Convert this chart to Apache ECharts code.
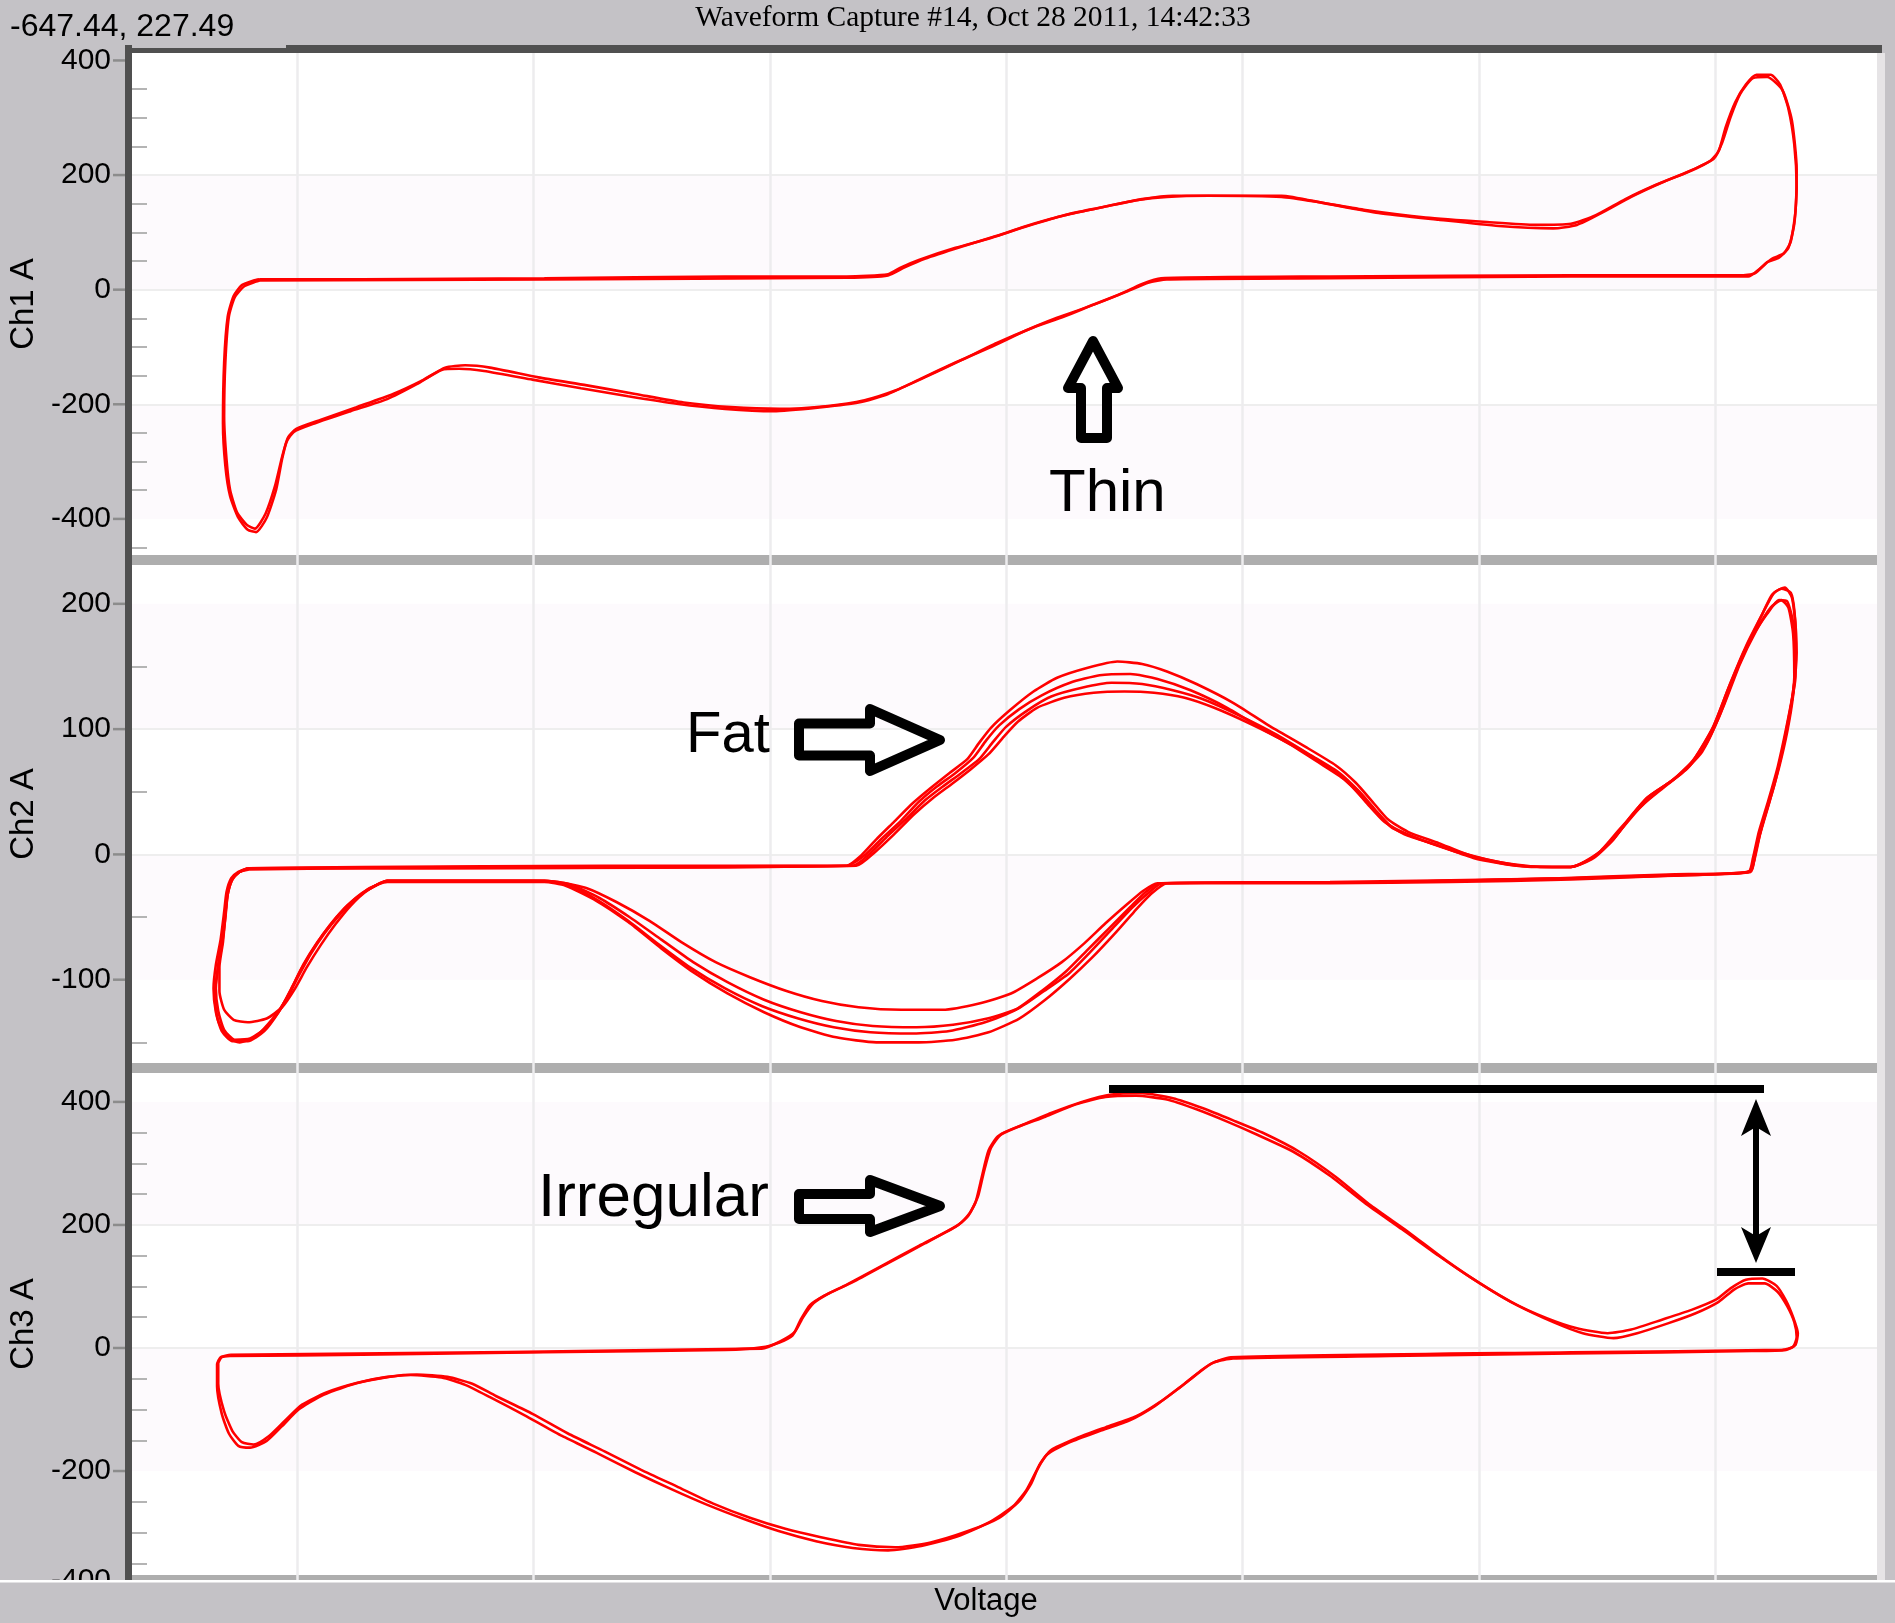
<!DOCTYPE html>
<html><head><meta charset="utf-8">
<script src="https://cdn.jsdelivr.net/npm/echarts@6/dist/echarts.min.js"></script>
<style>html,body{margin:0;padding:0;background:#C4C2C6;overflow:hidden}#c{width:1895px;height:1623px}</style>
</head><body><div id="c"></div>
<script>
// ---------- axis ranges & tick labels ----------
const voltageRange = [-740, 737];
const ch1Range = [-463, 413];
const ch2Range = [-166.5, 231];
const ch3Range = [-369, 447];
const ch1Ticks = [-400, -200, 0, 200, 400];
const ch2Ticks = [-100, 0, 100, 200];
const ch3Ticks = [-200, 0, 200, 400];
const ch3ClippedTick = '-400';
const channelNames = ['Ch1 A', 'Ch2 A', 'Ch3 A'];
const titleText = 'Waveform Capture #14, Oct 28 2011, 14:42:33';
const cursorText = '-647.44, 227.49';
const xName = 'Voltage';

// ---------- traces: [voltage, current] ----------
const ch1TraceA = [[-632,18],[-545,18],[-391,20],[-238,23],[-135,23],[-100,27],[-89,39],[-74,52],[-43,73],[-13,90],[18,111],[49,130],[79,143],[110,156],[136,162],[171,164],[233,162],[264,153],[304,139],[355,126],[407,118],[448,113],[478,115],[499,130],[524,158],[550,183],[575,204],[596,225],[603,242],[609,284],[617,327],[626,358],[635,375],[647,375],[655,358],[662,316],[667,253],[669,179],[667,115],[662,73],[654,56],[644,48],[634,29],[621,25],[478,25],[274,23],[131,20],[115,10],[95,-9],[69,-30],[43,-49],[18,-70],[-13,-100],[-43,-127],[-74,-157],[-100,-182],[-125,-197],[-156,-205],[-197,-212],[-238,-208],[-279,-199],[-320,-186],[-360,-172],[-401,-157],[-442,-142],[-463,-138],[-478,-140],[-499,-165],[-524,-191],[-555,-212],[-585,-233],[-603,-248],[-609,-265],[-613,-296],[-618,-349],[-626,-398],[-635,-423],[-642,-419],[-650,-398],[-657,-360],[-661,-307],[-663,-233],[-662,-127],[-659,-47],[-654,-11],[-647,8],[-637,16],[-632,18]];
const ch1TraceB = [[-632,16],[-391,18],[-135,21],[-100,25],[-86,39],[-69,54],[-38,75],[-8,94],[23,115],[54,132],[84,145],[115,158],[141,164],[233,164],[269,151],[315,134],[366,122],[417,111],[463,107],[483,113],[504,134],[529,162],[555,187],[580,208],[599,229],[606,257],[613,301],[621,341],[632,369],[644,371],[657,348],[665,295],[669,210],[668,137],[664,84],[658,63],[648,54],[638,37],[628,23],[478,23],[274,20],[136,18],[120,12],[100,-5],[74,-26],[49,-47],[23,-66],[-8,-93],[-38,-123],[-69,-153],[-94,-176],[-120,-193],[-151,-203],[-192,-208],[-233,-205],[-273,-197],[-314,-182],[-355,-167],[-396,-153],[-437,-136],[-458,-132],[-475,-136],[-493,-157],[-519,-182],[-550,-205],[-580,-227],[-601,-243],[-608,-258],[-613,-292],[-619,-343],[-627,-391],[-636,-417],[-643,-410],[-651,-389],[-657,-349],[-660,-296],[-662,-222],[-661,-127],[-658,-47],[-653,-13],[-645,6],[-635,14],[-632,16]];

const ch2Trace1 = [[-642,-11],[-545,-10],[-340,-9],[-135,-9],[-123,-1],[-110,12],[-95,26],[-79,41],[-64,53],[-48,65],[-33,76],[-23,89],[-13,101],[3,115],[23,130],[43,141],[69,149],[94,154],[115,152],[136,146],[161,136],[192,121],[222,103],[253,86],[279,71],[296,57],[310,42],[323,28],[340,18],[366,9],[396,-2],[432,-9],[478,-10],[497,-3],[514,12],[529,31],[545,47],[565,60],[582,76],[599,103],[613,137],[626,166],[640,192],[650,209],[659,213],[665,205],[668,181],[668,142],[663,113],[657,84],[650,55],[642,30],[635,7],[631,-12],[621,-15],[560,-17],[478,-20],[376,-22],[274,-23],[130,-23],[118,-30],[105,-42],[87,-59],[69,-76],[51,-93],[30,-109],[8,-124],[-18,-134],[-48,-141],[-79,-143],[-115,-142],[-146,-138],[-176,-131],[-207,-121],[-238,-107],[-268,-90],[-294,-72],[-320,-53],[-345,-37],[-369,-25],[-391,-21],[-463,-21],[-524,-21],[-534,-25],[-547,-32],[-560,-43],[-573,-57],[-585,-73],[-597,-92],[-606,-109],[-616,-126],[-628,-141],[-642,-149],[-655,-149],[-664,-141],[-669,-126],[-671,-107],[-669,-88],[-665,-68],[-662,-46],[-660,-30],[-656,-19],[-650,-14],[-642,-11]];
const ch2Trace2 = [[-641,-12],[-545,-11],[-135,-9],[-119,0],[-105,13],[-89,27],[-74,42],[-59,54],[-43,65],[-28,77],[-17,91],[-6,103],[11,116],[30,127],[54,137],[79,143],[105,144],[128,140],[156,131],[187,117],[217,100],[248,84],[274,69],[292,55],[306,40],[320,26],[337,16],[366,7],[396,-3],[432,-9],[478,-10],[499,-1],[517,16],[535,36],[552,51],[572,65],[589,82],[603,109],[617,144],[631,173],[644,192],[654,203],[661,202],[666,185],[668,156],[666,127],[661,98],[654,69],[646,42],[638,16],[633,-5],[628,-14],[560,-16],[468,-19],[325,-22],[136,-23],[122,-32],[108,-46],[92,-63],[73,-82],[54,-99],[33,-116],[11,-131],[-15,-142],[-43,-148],[-74,-150],[-110,-150],[-144,-146],[-174,-138],[-205,-126],[-236,-111],[-265,-94],[-292,-75],[-320,-54],[-347,-37],[-373,-25],[-391,-22],[-524,-22],[-539,-27],[-553,-38],[-565,-49],[-577,-63],[-589,-80],[-599,-97],[-609,-115],[-620,-130],[-635,-145],[-649,-150],[-659,-146],[-667,-133],[-670,-114],[-668,-95],[-664,-73],[-661,-51],[-659,-32],[-655,-20],[-649,-14],[-641,-12]];
const ch2Trace3 = [[-642,-11],[-442,-10],[-130,-9],[-115,1],[-100,15],[-84,29],[-69,43],[-54,54],[-38,65],[-23,76],[-11,90],[0,102],[18,115],[38,126],[64,133],[89,137],[115,136],[141,131],[166,124],[197,111],[228,96],[258,79],[282,65],[299,50],[312,36],[325,23],[345,14],[376,4],[412,-5],[447,-10],[478,-10],[501,1],[519,20],[538,39],[556,53],[577,69],[593,89],[607,118],[621,152],[635,179],[647,197],[656,203],[662,197],[666,176],[667,142],[663,111],[656,79],[648,50],[640,24],[634,1],[630,-14],[580,-16],[478,-19],[325,-22],[132,-23],[120,-31],[106,-43],[89,-60],[71,-78],[53,-95],[32,-109],[10,-123],[-16,-131],[-45,-136],[-76,-138],[-113,-137],[-144,-133],[-174,-126],[-205,-116],[-236,-102],[-265,-86],[-292,-68],[-319,-50],[-344,-35],[-369,-24],[-391,-21],[-524,-21],[-541,-29],[-555,-41],[-568,-56],[-580,-72],[-592,-90],[-602,-107],[-613,-122],[-626,-131],[-642,-134],[-654,-132],[-662,-124],[-666,-109],[-666,-90],[-663,-70],[-661,-49],[-659,-32],[-655,-20],[-649,-14],[-642,-11]];
const ch2Trace4 = [[-641,-11],[-127,-9],[-111,2],[-95,16],[-78,32],[-62,45],[-45,57],[-30,68],[-15,80],[-2,94],[10,106],[26,117],[49,125],[74,129],[100,130],[125,129],[151,125],[176,117],[207,104],[238,89],[265,73],[286,60],[302,45],[315,32],[327,21],[350,12],[381,2],[417,-6],[452,-10],[478,-10],[494,-4],[512,10],[527,28],[542,45],[562,58],[580,73],[597,99],[611,132],[624,161],[638,188],[648,207],[656,212],[664,209],[667,195],[669,161],[666,130],[660,100],[653,70],[645,43],[637,18],[632,-3],[628,-14],[478,-19],[274,-22],[128,-23],[116,-29],[102,-40],[84,-55],[66,-71],[47,-86],[26,-99],[4,-111],[-23,-119],[-54,-124],[-89,-124],[-125,-122],[-156,-117],[-186,-109],[-217,-98],[-246,-86],[-275,-70],[-302,-53],[-330,-38],[-355,-27],[-379,-22],[-401,-21],[-524,-21],[-532,-24],[-545,-31],[-558,-41],[-571,-55],[-583,-70],[-595,-88],[-604,-105],[-614,-123],[-626,-138],[-640,-147],[-653,-148],[-662,-140],[-667,-125],[-669,-107],[-667,-88],[-664,-68],[-661,-47],[-659,-30],[-655,-19],[-649,-14],[-641,-11]];

const ch3TraceA = [[-657,-13],[-545,-11],[-391,-7],[-238,-3],[-207,1],[-192,9],[-181,20],[-174,46],[-166,70],[-154,85],[-135,103],[-105,134],[-74,166],[-43,197],[-33,213],[-26,237],[-21,276],[-15,321],[-7,344],[8,358],[33,376],[59,396],[84,408],[110,410],[136,404],[161,388],[187,368],[212,347],[243,319],[274,280],[304,235],[335,193],[366,150],[396,111],[427,75],[458,48],[483,32],[509,24],[529,30],[555,46],[580,62],[601,79],[613,97],[626,111],[640,113],[652,101],[660,77],[666,50],[670,24],[668,5],[660,-3],[631,-5],[478,-9],[325,-13],[192,-17],[176,-23],[166,-35],[151,-58],[130,-88],[110,-111],[84,-129],[59,-147],[38,-166],[28,-190],[21,-221],[11,-249],[-6,-276],[-33,-298],[-64,-316],[-94,-324],[-125,-320],[-156,-308],[-187,-294],[-217,-276],[-248,-253],[-279,-225],[-309,-198],[-340,-168],[-371,-139],[-401,-107],[-432,-78],[-452,-58],[-473,-47],[-499,-43],[-524,-47],[-550,-57],[-575,-72],[-596,-92],[-611,-119],[-624,-143],[-637,-157],[-647,-153],[-655,-135],[-662,-103],[-667,-58],[-667,-25],[-664,-15],[-657,-13]];
const ch3TraceB = [[-657,-11],[-207,-1],[-191,11],[-179,26],[-172,50],[-163,73],[-150,89],[-130,107],[-100,138],[-69,170],[-40,201],[-31,219],[-24,246],[-19,286],[-13,325],[-4,348],[13,362],[38,382],[64,400],[89,412],[115,414],[141,406],[166,390],[192,370],[218,349],[248,319],[279,278],[309,231],[340,189],[371,144],[401,105],[432,70],[463,42],[488,24],[514,16],[534,24],[560,40],[583,56],[603,75],[616,95],[628,105],[642,105],[653,91],[661,68],[667,42],[669,18],[666,2],[657,-3],[478,-7],[190,-15],[174,-25],[163,-40],[147,-64],[126,-94],[105,-117],[79,-135],[54,-153],[34,-174],[25,-202],[17,-231],[6,-257],[-15,-284],[-41,-306],[-72,-322],[-100,-329],[-130,-325],[-161,-314],[-192,-298],[-222,-278],[-253,-255],[-284,-229],[-314,-202],[-345,-172],[-376,-143],[-406,-111],[-437,-80],[-458,-60],[-478,-48],[-504,-44],[-529,-49],[-555,-60],[-580,-78],[-599,-100],[-613,-127],[-626,-151],[-640,-162],[-650,-159],[-658,-139],[-664,-107],[-668,-62],[-668,-27],[-665,-15],[-657,-11]];

// ---------- chart ----------
const FONT = 'Liberation Sans';
const chart = echarts.init(document.getElementById('c'), null, {renderer: 'canvas', width: 1895, height: 1623});

const gridBoxes = [
  {left: 132, top: 53, width: 1745, height: 502},
  {left: 132, top: 565, width: 1745, height: 498},
  {left: 132, top: 1073, width: 1745, height: 502},
  {left: 132, top: 53, width: 1745, height: 1527}
];
const ranges = [ch1Range, ch2Range, ch3Range];
const ticks = [ch1Ticks, ch2Ticks, ch3Ticks];
const minorSplits = [4, 2, 4];

const xAxes = [0, 1, 2].map(i => ({type: 'value', gridIndex: i, min: voltageRange[0], max: voltageRange[1], show: false}));
xAxes.push({
  type: 'value', gridIndex: 3, min: voltageRange[0], max: voltageRange[1], splitNumber: 7, z: 2,
  axisLine: {show: false, onZero: false}, axisTick: {show: false}, axisLabel: {show: false},
  splitLine: {show: true, showMinLine: false, showMaxLine: false, lineStyle: {color: '#EDECEE', width: 2.5}}
});

const yAxes = [0, 1, 2].map(i => ({
  type: 'value', gridIndex: i, position: 'left', min: ranges[i][0], max: ranges[i][1], splitNumber: 4,
  name: channelNames[i], nameLocation: 'middle', nameGap: 90, nameRotate: 90,
  nameTextStyle: {fontFamily: FONT, fontSize: 33, color: '#000'},
  axisLine: {show: false, onZero: false},
  axisTick: {show: false, customValues: ticks[i]},
  axisLabel: {show: true, margin: 21, customValues: ticks[i], fontFamily: FONT, fontSize: 30, color: '#000', showMinLabel: true, showMaxLabel: true},
  splitLine: {show: true, showMinLine: false, showMaxLine: false, lineStyle: {color: '#EEEEEE', width: 2}},
  splitArea: {show: true, areaStyle: {color: ['#FDFAFD', '#FFFFFF']}}
}));
[0, 1, 2].forEach(i => yAxes.push({
  type: 'value', gridIndex: i, position: 'left', offset: 0, min: ranges[i][0], max: ranges[i][1], splitNumber: 4, z: 1,
  axisLine: {show: false, onZero: false}, axisLabel: {show: false}, splitLine: {show: false}, splitArea: {show: false},
  axisTick: {show: false, inside: true},
  minorTick: {show: true, splitNumber: minorSplits[i], length: 15, lineStyle: {color: '#B4B4B4', width: 2}}
}));
yAxes.push({type: 'value', gridIndex: 3, min: 0, max: 1, show: false, axisLine: {onZero: false}});

function trace(data, gi) {
  return {
    type: 'line', data: data, xAxisIndex: gi, yAxisIndex: gi, z: 5,
    showSymbol: false, symbol: 'none', smooth: 0.2, silent: true, animation: false,
    lineStyle: {color: '#FF0000', width: 2.6}, emphasis: {disabled: true}
  };
}

const txt = (x, y, text, size, align, family, z) => ({
  type: 'text', x: x, y: y, z: z || 12, silent: true,
  style: {text: text, fill: '#000', fontSize: size, fontFamily: family || FONT, align: align, verticalAlign: 'middle'}
});
const outlineArrow = (pts) => ({
  type: 'polygon', z: 12, silent: true, shape: {points: pts},
  style: {fill: 'none', stroke: '#000', lineWidth: 10, lineJoin: 'round'}
});
const box = (x, y, w, h, fill, z) => ({type: 'rect', z: z, silent: true, shape: {x: x, y: y, width: w, height: h}, style: {fill: fill}});

const graphics = [
  box(132, 555, 1745, 10, '#AEAEAE', 1),
  box(132, 1063, 1745, 10, '#AEAEAE', 1),
  box(132, 1575, 1745, 5, '#AEAEAE', 1),
  txt(111, 1581, ch3ClippedTick, 30, 'right', FONT, 6),
  box(0, 1582, 1895, 41, '#C4C2C6', 7),
  box(0, 1580, 1895, 2.5, '#FFFFFF', 7),
  box(1877, 53, 8, 1527, '#E6E4E6', 8),
  box(125, 45, 7, 1535, '#505050', 8),
  box(286, 45, 1596, 8, '#505050', 8),
  box(125, 48, 161, 5, '#505050', 8),
  txt(973, 18, titleText, 29.5, 'center', 'Liberation Serif'),
  txt(10, 27, cursorText, 32, 'left'),
  txt(986, 1601, xName, 31, 'center'),
  // annotations
  txt(1049, 494, 'Thin', 60, 'left'),
  txt(686, 736, 'Fat', 58, 'left'),
  txt(538, 1199, 'Irregular', 62, 'left'),
  outlineArrow([[1093,341],[1118,388],[1107,388],[1107,438],[1081,438],[1081,388],[1068,388]]),
  outlineArrow([[799,723.5],[870,723.5],[870,709],[940,740],[870,771],[870,755.5],[799,755.5]]),
  outlineArrow([[799,1194],[870,1194],[870,1180],[940,1206],[870,1232],[870,1219],[799,1219]]),
  box(1109, 1085, 655, 8, '#000', 12),
  box(1717, 1268, 78, 8, '#000', 12),
  box(1753, 1125, 6, 112, '#000', 12),
  {type: 'polygon', z: 12, silent: true, shape: {points: [[1756,1099],[1771,1136],[1756,1127],[1741,1136]]}, style: {fill: '#000'}},
  {type: 'polygon', z: 12, silent: true, shape: {points: [[1756,1263],[1771,1227],[1756,1236],[1741,1227]]}, style: {fill: '#000'}}
];

// major tick marks just outside the left border, one per tick value of each channel
ticks.forEach((vals, i) => {
  const g = gridBoxes[i], rg = ranges[i];
  vals.forEach(v => {
    const py = g.top + (rg[1] - v) / (rg[1] - rg[0]) * g.height;
    graphics.push(box(113, py - 1.25, 12, 2.5, '#8C8C8C', 20));
  });
});

chart.setOption({
  animation: false,
  backgroundColor: '#C4C2C6',
  grid: gridBoxes.map((g, i) => Object.assign({containLabel: false, outerBoundsMode: 'none', show: i < 3, backgroundColor: '#FFFFFF', borderWidth: 0}, g)),
  xAxis: xAxes,
  yAxis: yAxes,
  series: [
    trace(ch1TraceA, 0), trace(ch1TraceB, 0),
    trace(ch2Trace1, 1), trace(ch2Trace2, 1), trace(ch2Trace3, 1), trace(ch2Trace4, 1),
    trace(ch3TraceA, 2), trace(ch3TraceB, 2)
  ],
  graphic: {elements: graphics}
});
</script></body></html>
